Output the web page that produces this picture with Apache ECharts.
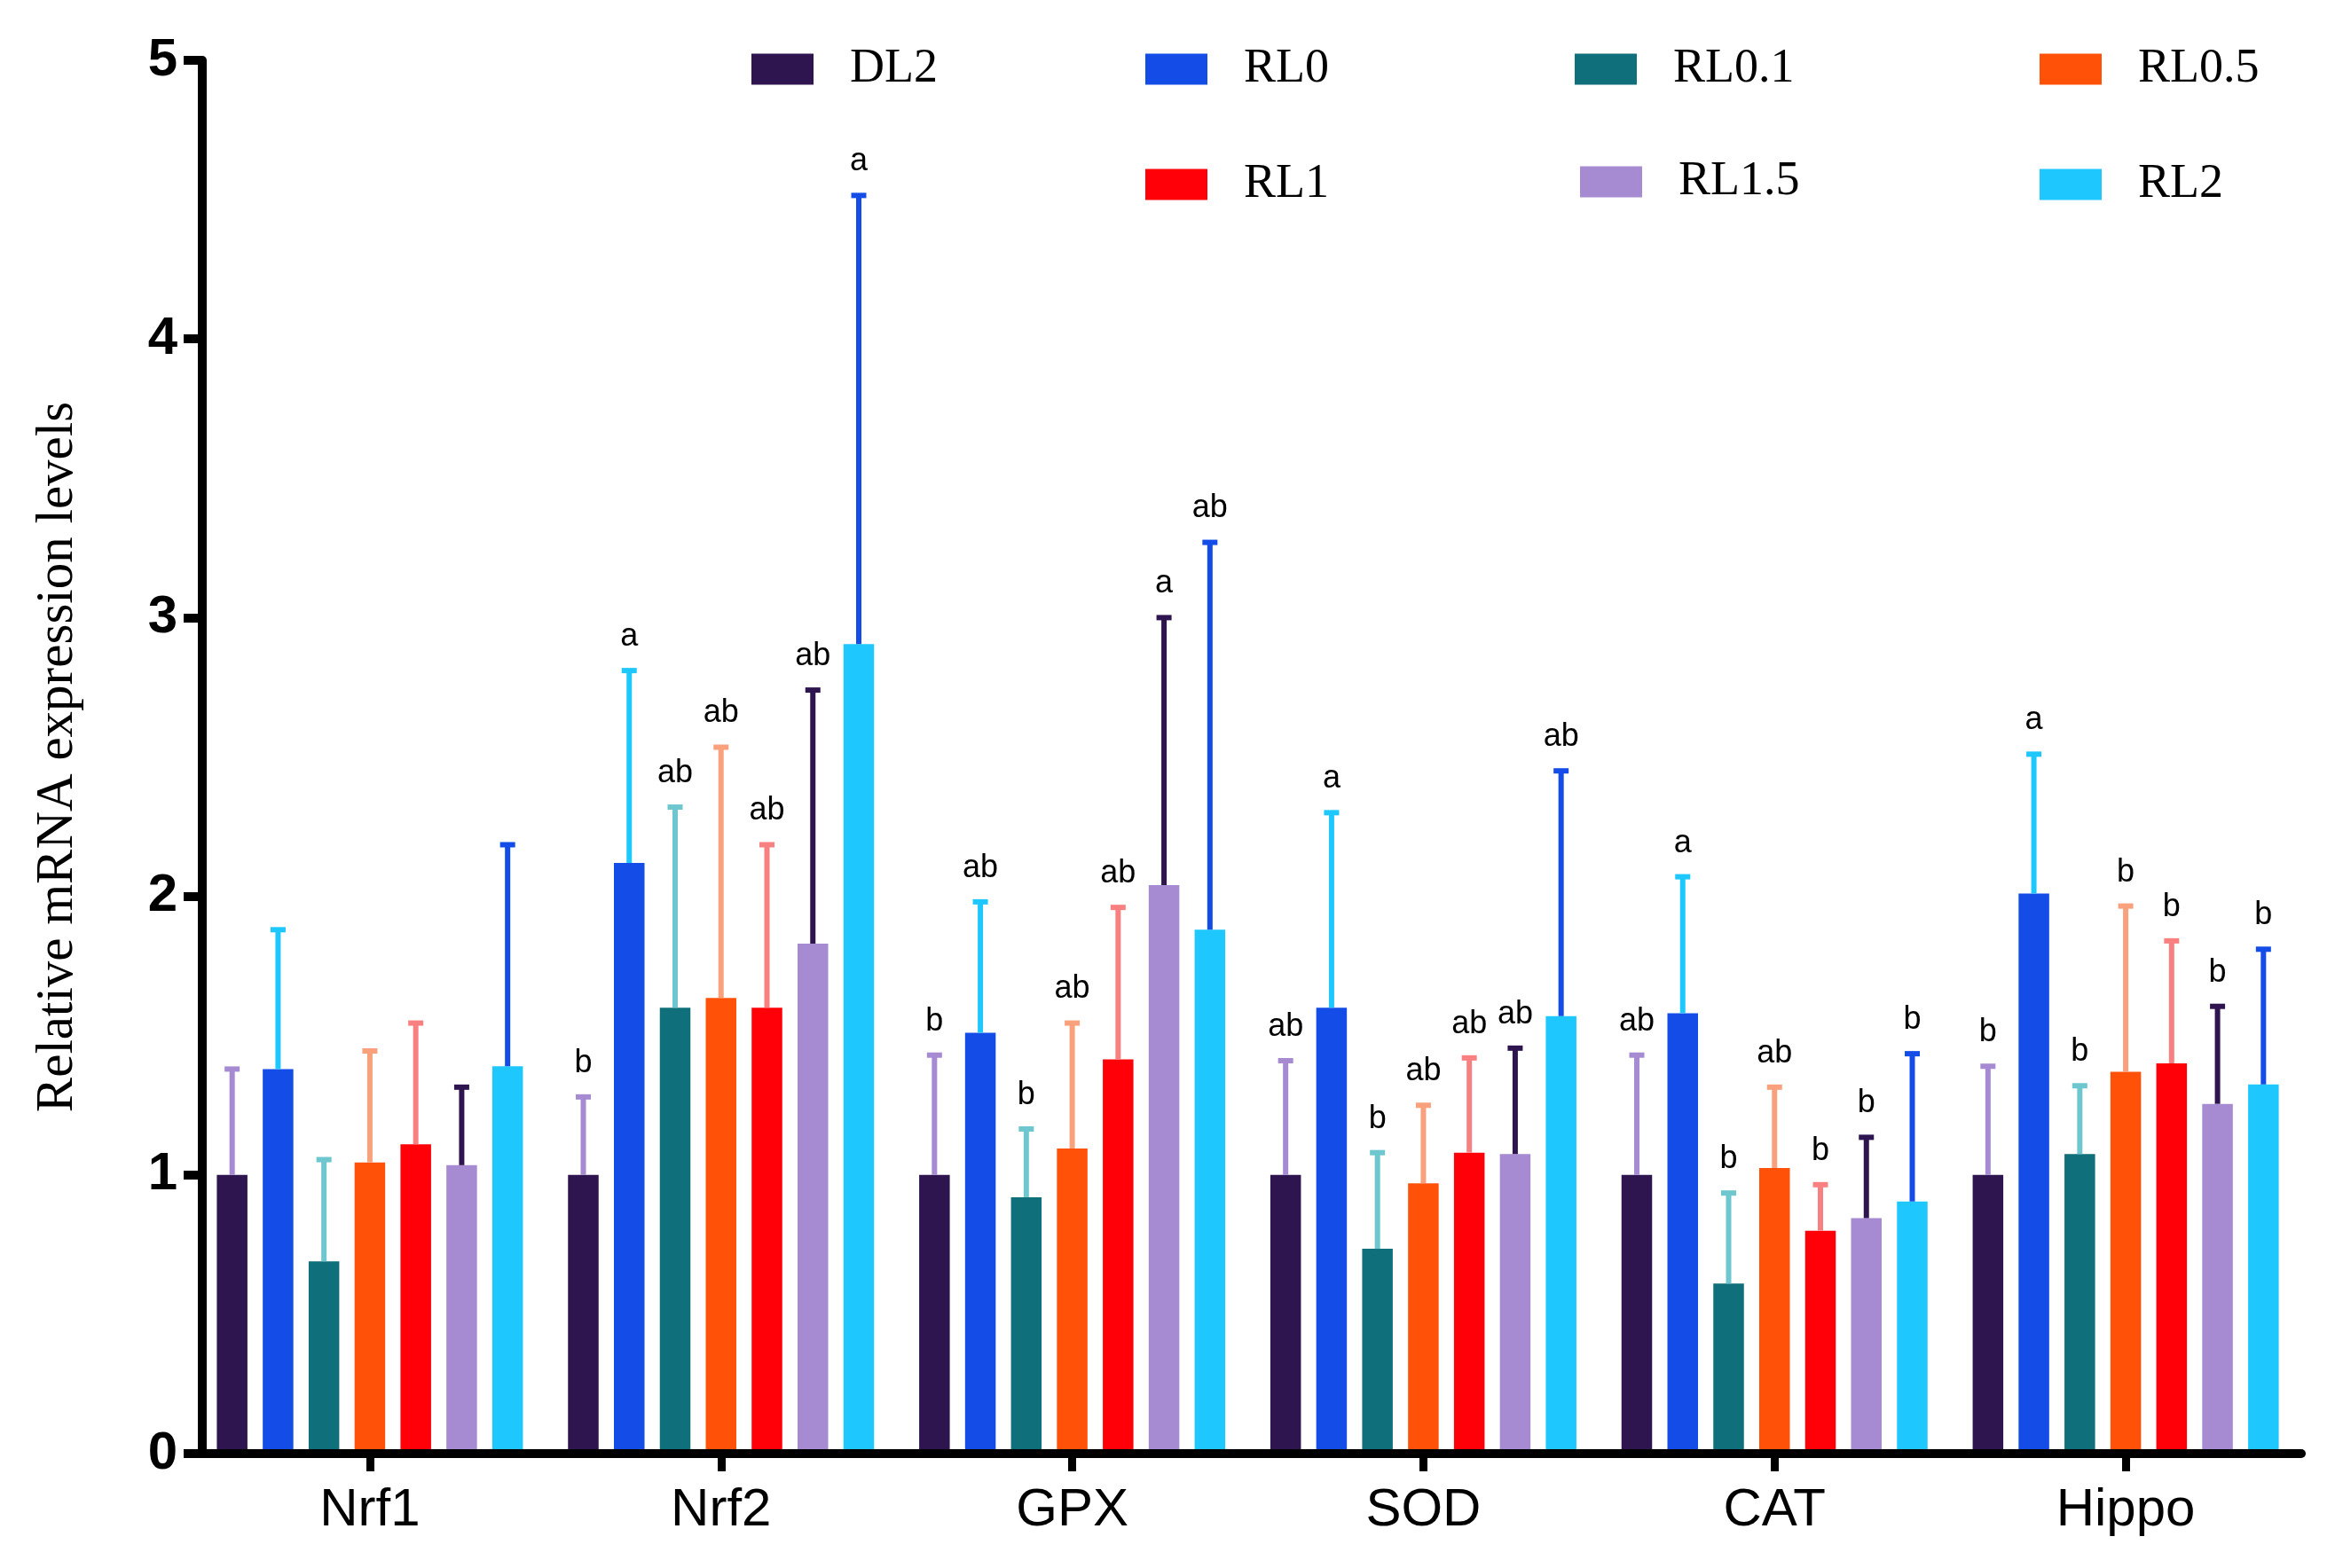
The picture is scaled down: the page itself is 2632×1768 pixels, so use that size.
<!DOCTYPE html>
<html><head><meta charset="utf-8">
<script src="https://cdn.jsdelivr.net/npm/echarts@6/dist/echarts.min.js"></script>
<style>html,body{margin:0;padding:0;background:#fff}#c{width:2632px;height:1768px}</style>
</head><body><div id="c"></div>
<script>
// ---------------- data ----------------
const categories = ['Nrf1', 'Nrf2', 'GPX', 'SOD', 'CAT', 'Hippo'];
const groups = ['DL2', 'RL0', 'RL0.1', 'RL0.5', 'RL1', 'RL1.5', 'RL2'];
const yTicks = [0, 1, 2, 3, 4, 5];

const meanDL2  = [1.00, 1.00, 1.00, 1.00, 1.00, 1.00];
const meanRL0  = [1.38, 2.12, 1.51, 1.60, 1.58, 2.01];
const meanRL01 = [0.69, 1.60, 0.92, 0.735, 0.61, 1.075];
const meanRL05 = [1.045, 1.635, 1.095, 0.97, 1.025, 1.37];
const meanRL1  = [1.11, 1.60, 1.415, 1.08, 0.80, 1.40];
const meanRL15 = [1.035, 1.83, 2.04, 1.075, 0.845, 1.255];
const meanRL2  = [1.39, 2.905, 1.88, 1.57, 0.905, 1.325];

const upperDL2  = [1.38, 1.28, 1.43, 1.41, 1.43, 1.39];
const upperRL0  = [1.88, 2.81, 1.98, 2.30, 2.07, 2.51];
const upperRL01 = [1.055, 2.32, 1.165, 1.08, 0.935, 1.32];
const upperRL05 = [1.445, 2.535, 1.545, 1.25, 1.315, 1.965];
const upperRL1  = [1.545, 2.185, 1.96, 1.42, 0.965, 1.84];
const upperRL15 = [1.315, 2.74, 3.00, 1.455, 1.135, 1.605];
const upperRL2  = [2.185, 4.515, 3.27, 2.45, 1.435, 1.81];

const lettersDL2  = ['', 'b', 'b', 'ab', 'ab', 'b'];
const lettersRL0  = ['', 'a', 'ab', 'a', 'a', 'a'];
const lettersRL01 = ['', 'ab', 'b', 'b', 'b', 'b'];
const lettersRL05 = ['', 'ab', 'ab', 'ab', 'ab', 'b'];
const lettersRL1  = ['', 'ab', 'ab', 'ab', 'b', 'b'];
const lettersRL15 = ['', 'ab', 'a', 'ab', 'b', 'b'];
const lettersRL2  = ['', 'a', 'ab', 'ab', 'b', 'b'];

// ---------------- styles ----------------
const means = [meanDL2, meanRL0, meanRL01, meanRL05, meanRL1, meanRL15, meanRL2];
const uppers = [upperDL2, upperRL0, upperRL01, upperRL05, upperRL1, upperRL15, upperRL2];
const letters = [lettersDL2, lettersRL0, lettersRL01, lettersRL05, lettersRL1, lettersRL15, lettersRL2];

const barColors = ['#2E1550', '#134CE6', '#0F6F7A', '#FF5208', '#FF0008', '#A68AD2', '#1EC8FF'];
const errColors = ['#A68AD2', '#1EC8FF', '#6EC6CE', '#F9A07C', '#F98080', '#2E1550', '#134CE6'];
const legendPos = [[847, 51], [1291, 51], [1775, 51], [2299, 51], [1291, 181], [1781, 178], [2299, 181]];

const BAR_W = 34.5;
const BAR_GAP = 0.5;
const BAR_STEP = BAR_W * (1 + BAR_GAP);
const SANS = '"Liberation Sans", Arial, sans-serif';
const SERIF = '"Liberation Serif", "Times New Roman", serif';

function makeRenderer(k) {
  return function (params, api) {
    const cat = api.value(0), mean = api.value(1), up = api.value(2);
    const base = api.coord([cat, mean]);
    const top = api.coord([cat, up]);
    const x = base[0] + (k - 3) * BAR_STEP;
    const letter = letters[k][params.dataIndex];
    const children = [
      { type: 'line', shape: { x1: x, y1: base[1], x2: x, y2: top[1] },
        style: { stroke: errColors[k], lineWidth: 6 } },
      { type: 'line', shape: { x1: x - 8.5, y1: top[1], x2: x + 8.5, y2: top[1] },
        style: { stroke: errColors[k], lineWidth: 6 } }
    ];
    if (letter) {
      children.push({ type: 'text', x: x, y: top[1] - 38,
        style: { text: letter, fill: '#000', font: '36px ' + SANS, align: 'center', verticalAlign: 'middle' } });
    }
    return { type: 'group', children: children };
  };
}

const series = [];
groups.forEach((g, k) => {
  series.push({
    name: g, type: 'bar', data: means[k], barWidth: BAR_W, barGap: (BAR_GAP * 100) + '%',
    itemStyle: { color: barColors[k] }, emphasis: { disabled: true }, z: 2
  });
});
groups.forEach((g, k) => {
  series.push({
    name: 'err_' + g, type: 'custom', z: 3,
    data: categories.map((c, i) => [i, means[k][i], uppers[k][i]]),
    encode: { x: 0, y: 2 },
    renderItem: makeRenderer(k)
  });
});

const chart = echarts.init(document.getElementById('c'), null, { renderer: 'canvas' });
chart.setOption({
  animation: false,
  backgroundColor: '#fff',
  grid: { left: 219, right: 38, top: 68, bottom: 129, containLabel: false, outerBoundsMode: 'none' },
  legend: groups.map((g, k) => ({
    data: [g], left: legendPos[k][0], top: legendPos[k][1], padding: 0,
    itemWidth: 70, itemHeight: 35, icon: 'rect', selectedMode: false,
    textStyle: { fontFamily: SERIF, fontSize: 54, color: '#000', padding: [0, 0, 0, 36] }
  })),
  xAxis: {
    type: 'category', data: categories, z: 10,
    axisLine: { show: true, lineStyle: { color: '#000', width: 10 } },
    axisTick: { show: true, alignWithLabel: true, length: 20, lineStyle: { color: '#000', width: 9 } },
    axisLabel: { fontFamily: SANS, fontSize: 60, color: '#000', margin: 34 },
    splitLine: { show: false }
  },
  yAxis: {
    type: 'value', min: yTicks[0], max: yTicks[yTicks.length - 1], interval: 1, offset: -9, z: 10,
    name: 'Relative mRNA expression levels', nameLocation: 'middle', nameGap: 133, nameRotate: 90,
    nameTextStyle: { fontFamily: SERIF, fontSize: 59, color: '#000' },
    axisLine: { show: true, lineStyle: { color: '#000', width: 10 } },
    axisTick: { show: true, length: 21, lineStyle: { color: '#000', width: 10 } },
    axisLabel: { fontFamily: SANS, fontSize: 60, fontWeight: 'bold', color: '#000', margin: 28 },
    splitLine: { show: false }
  },
  series: series
});
</script>
</body></html>
